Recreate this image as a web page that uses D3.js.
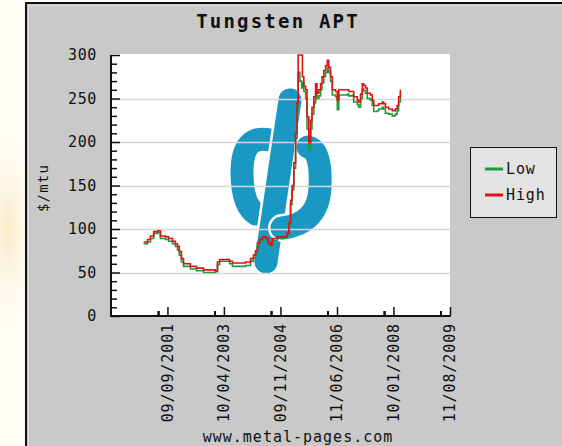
<!DOCTYPE html>
<html>
<head>
<meta charset="utf-8">
<script src="https://cdn.jsdelivr.net/npm/d3@7"></script>
<style>
  body { margin: 0; background: #fff; }
  svg { display: block; }
  text { font-family: "DejaVu Sans Mono", monospace; fill: #111; }
</style>
</head>
<body>
<svg id="chart" width="562" height="446"></svg>
<script>
// tick labels on the date axis (dd/mm/yyyy)
var tickLabels = ["09/09/2001", "10/04/2003", "09/11/2004", "11/06/2006", "10/01/2008", "11/08/2009"];
var yTicks = [0, 50, 100, 150, 200, 250, 300];
var seriesNames = ["Low", "High"];

// observation dates as decimal years
var years = [2001.02, 2001.13, 2001.21, 2001.30, 2001.41, 2001.49, 2001.63, 2001.72, 2001.83, 2001.91,
  2001.97, 2002.02, 2002.08, 2002.14, 2002.33, 2002.50, 2002.70, 2002.89, 2003.03, 2003.09,
  2003.15, 2003.43, 2003.51, 2003.68, 2003.88, 2004.02, 2004.10, 2004.16, 2004.21, 2004.27,
  2004.35, 2004.46, 2004.52, 2004.58, 2004.63, 2004.77, 2004.94, 2005.04, 2005.09, 2005.14,
  2005.18, 2005.23, 2005.28, 2005.32, 2005.35, 2005.40, 2005.45, 2005.47, 2005.51, 2005.56,
  2005.60, 2005.65, 2005.70, 2005.74, 2005.79, 2005.84, 2005.88, 2005.93, 2005.98, 2006.02,
  2006.07, 2006.12, 2006.17, 2006.21, 2006.26, 2006.31, 2006.40, 2006.45, 2006.49, 2006.73,
  2006.77, 2006.87, 2006.91, 2007.01, 2007.05, 2007.10, 2007.15, 2007.19, 2007.24, 2007.29,
  2007.38, 2007.43, 2007.47, 2007.57, 2007.61, 2007.71, 2007.75, 2007.80, 2007.89, 2007.99,
  2008.08, 2008.13, 2008.17, 2008.22];

var high = [85, 88, 92, 97, 98, 92, 91, 89, 86, 83,
  80, 74, 66, 60, 57, 55, 53, 53, 52, 62,
  65, 63, 61, 61, 62, 66, 70, 75, 84, 88,
  91, 89, 84, 82, 89, 91, 91, 95, 107, 133,
  150, 176, 210, 245, 300, 300, 300, 275, 264, 260,
  229, 200, 225, 240, 252, 267, 256, 260, 267, 275,
  282, 288, 294, 286, 275, 260, 258, 248, 260, 260,
  258, 258, 252, 248, 246, 255, 267, 265, 262, 256,
  254, 248, 242, 242, 244, 246, 244, 240, 238, 236,
  238, 242, 252, 260];

var low = [83, 85, 89, 95, 96, 89, 88, 86, 83, 80,
  76, 70, 62, 57, 54, 52, 50, 50, 51, 59,
  63, 60, 57, 57, 58, 63, 67, 72, 80, 86,
  89, 87, 82, 80, 87, 89, 90, 93, 104, 128,
  145, 170, 204, 240, 280, 270, 262, 268, 258, 250,
  215, 191, 215, 232, 245, 258, 250, 253, 260, 268,
  275, 280, 286, 280, 270, 254, 252, 237, 254, 255,
  253, 254, 246, 243, 240, 250, 261, 259, 256, 250,
  248, 242, 235, 236, 238, 240, 238, 233, 232, 230,
  232, 236, 246, 256];

var seriesColors = { Low: "#1f9a3a", High: "#e01212" };

var svg = d3.select("#chart");
var parseTick = d3.timeParse("%d/%m/%Y");
var tickDates = tickLabels.map(parseTick);

function yearToDate(y) {
  var yr = Math.floor(y);
  return new Date(yr, 0, 1 + Math.round((y - yr) * 365.25));
}

// page background strip on the left
var defs = svg.append("defs");
var glow = defs.append("radialGradient").attr("id", "glow");
glow.append("stop").attr("offset", "0%").attr("stop-color", "#f6dca6").attr("stop-opacity", 0.6);
glow.append("stop").attr("offset", "100%").attr("stop-color", "#fdf9ee").attr("stop-opacity", 0);
svg.append("rect").attr("x", 0).attr("y", 0).attr("width", 562).attr("height", 446).attr("fill", "#fffdf6");
svg.append("ellipse").attr("cx", 8).attr("cy", 230).attr("rx", 30).attr("ry", 110).attr("fill", "url(#glow)");

// gray panel
var panel = svg.append("g");
panel.append("rect").attr("x", 26).attr("y", 3).attr("width", 536).attr("height", 443).attr("fill", "#c9c9c9");
panel.append("line").attr("x1", 25).attr("x2", 562).attr("y1", 3).attr("y2", 3).attr("stroke", "#111").attr("stroke-width", 2);
panel.append("line").attr("x1", 26).attr("x2", 26).attr("y1", 2).attr("y2", 446).attr("stroke", "#111").attr("stroke-width", 2);
panel.append("line").attr("x1", 28.5).attr("x2", 562).attr("y1", 5.5).attr("y2", 5.5).attr("stroke", "#e2e2e2");
panel.append("line").attr("x1", 28.5).attr("x2", 28.5).attr("y1", 5.5).attr("y2", 446).attr("stroke", "#e2e2e2");

var plot = { left: 111, right: 450, top: 54, bottom: 316 };

var step = tickDates[1] - tickDates[0];
var x = d3.scaleTime()
  .domain([new Date(+tickDates[0] - step), tickDates[tickDates.length - 1]])
  .range([plot.left, plot.right]);
var y = d3.scaleLinear().domain([0, 300]).range([plot.bottom, 55]);

// plot background
svg.append("rect")
  .attr("x", plot.left).attr("y", plot.top)
  .attr("width", plot.right - plot.left).attr("height", plot.bottom - plot.top)
  .attr("fill", "#fff");

// watermark logo
var logo = svg.append("g").attr("fill", "none").attr("stroke-linecap", "round");
function hook(d) {
  logo.append("path").attr("d", d).attr("stroke", "#fff").attr("stroke-width", 28);
  logo.append("path").attr("d", d).attr("stroke", "#1898c3").attr("stroke-width", 23);
}
hook("M270,140 Q242,134 242,172 Q242,205 256,214");
hook("M290,100 L266,262");
hook("M308,147 Q322,150 320,188 Q318,224 282,228");

// grid lines
svg.append("g").selectAll("line")
  .data(yTicks.filter(function(d) { return d > 0 && d < 300; }))
  .join("line")
  .attr("x1", plot.left).attr("x2", plot.right)
  .attr("y1", function(d) { return Math.round(y(d)) + 0.5; })
  .attr("y2", function(d) { return Math.round(y(d)) + 0.5; })
  .attr("stroke", "#d9d6d8").attr("stroke-width", 1.5);

// series
var line = d3.line()
  .x(function(d) { return x(d.date); })
  .y(function(d) { return y(d.value); })
  .curve(d3.curveStepAfter);

var series = {
  Low: years.map(function(yr, i) { return { date: yearToDate(yr), value: low[i] }; }),
  High: years.map(function(yr, i) { return { date: yearToDate(yr), value: high[i] }; })
};

seriesNames.forEach(function(name) {
  svg.append("path")
    .datum(series[name])
    .attr("d", line)
    .attr("fill", "none")
    .attr("stroke", seriesColors[name])
    .attr("stroke-width", 1.6);
});

// y axis
var yAxis = d3.axisRight(y).tickValues(yTicks).tickSize(9).tickFormat("");
var gy = svg.append("g").attr("transform", "translate(" + plot.left + ",0)").call(yAxis);
gy.select(".domain").remove();
gy.selectAll("line").attr("stroke", "#111").attr("stroke-width", 1.5);
var minorY = d3.range(0, 301, 10).filter(function(d) { return d % 50 != 0; });
svg.append("g").attr("transform", "translate(" + plot.left + ",0)")
  .call(d3.axisRight(y).tickValues(minorY).tickSize(6).tickFormat(""))
  .call(function(g) { g.select(".domain").remove(); g.selectAll("line").attr("stroke", "#111").attr("stroke-width", 1.5); });
svg.append("line").attr("x1", plot.left).attr("x2", plot.left)
  .attr("y1", y(300)).attr("y2", plot.bottom + 1).attr("stroke", "#111").attr("stroke-width", 2);

svg.append("g").selectAll("text")
  .data(yTicks)
  .join("text")
  .attr("x", 97).attr("y", function(d) { return y(d); })
  .attr("dy", "0.36em")
  .attr("text-anchor", "end")
  .style("font-size", "15px").style("letter-spacing", "0.6px")
  .text(function(d) { return d; });

// x axis
var minorX = [];
var allTicks = [x.domain()[0]].concat(tickDates);
for (var i = 0; i < allTicks.length - 1; i++) {
  var interp = d3.interpolateDate(allTicks[i], allTicks[i + 1]);
  for (var k = 1; k < 6; k++) minorX.push(interp(k / 6));
}
svg.append("g").attr("transform", "translate(0," + plot.bottom + ")")
  .call(d3.axisTop(x).tickValues(tickDates).tickSize(9).tickFormat(""))
  .call(function(g) { g.select(".domain").remove(); g.selectAll("line").attr("stroke", "#111").attr("stroke-width", 1.5); });
svg.append("g").attr("transform", "translate(0," + plot.bottom + ")")
  .call(d3.axisTop(x).tickValues(minorX).tickSize(5).tickFormat(""))
  .call(function(g) { g.select(".domain").remove(); g.selectAll("line").attr("stroke", "#111").attr("stroke-width", 1.5); });
svg.append("line").attr("x1", plot.left).attr("x2", plot.right + 0.5)
  .attr("y1", plot.bottom).attr("y2", plot.bottom).attr("stroke", "#111").attr("stroke-width", 2);

svg.append("g").selectAll("text")
  .data(tickDates)
  .join("text")
  .attr("transform", function(d, i) { return "translate(" + x(d) + "," + (plot.bottom + 7) + ") rotate(-90)"; })
  .attr("dy", "0.36em")
  .attr("text-anchor", "end")
  .style("font-size", "15px").style("letter-spacing", "0.9px")
  .text(function(d, i) { return tickLabels[i]; });

// titles
svg.append("text").attr("x", 278).attr("y", 28).attr("text-anchor", "middle")
  .style("font-size", "19px").style("font-weight", "bold").style("letter-spacing", "2.2px").text("Tungsten APT");
svg.append("text").attr("transform", "translate(43,188) rotate(-90)").attr("dy", "0.36em")
  .attr("text-anchor", "middle").style("font-size", "14px").style("letter-spacing", "1.2px").text("$/mtu");
svg.append("text").attr("x", 298).attr("y", 442).attr("text-anchor", "middle")
  .style("font-size", "15px").style("letter-spacing", "1px").text("www.metal-pages.com");

// legend
var legend = svg.append("g").attr("transform", "translate(470,147)");
legend.append("rect").attr("x", 0.5).attr("y", 0.5).attr("width", 86).attr("height", 70)
  .attr("fill", "#e3e3e3").attr("stroke", "#111");
seriesNames.forEach(function(name, i) {
  var ly = 22 + i * 26;
  legend.append("line").attr("x1", 15).attr("x2", 33).attr("y1", ly).attr("y2", ly)
    .attr("stroke", seriesColors[name]).attr("stroke-width", 3);
  legend.append("text").attr("x", 36).attr("y", ly).attr("dy", "0.36em")
    .style("font-size", "15px").style("letter-spacing", "0.9px").text(name);
});
</script>
</body>
</html>
